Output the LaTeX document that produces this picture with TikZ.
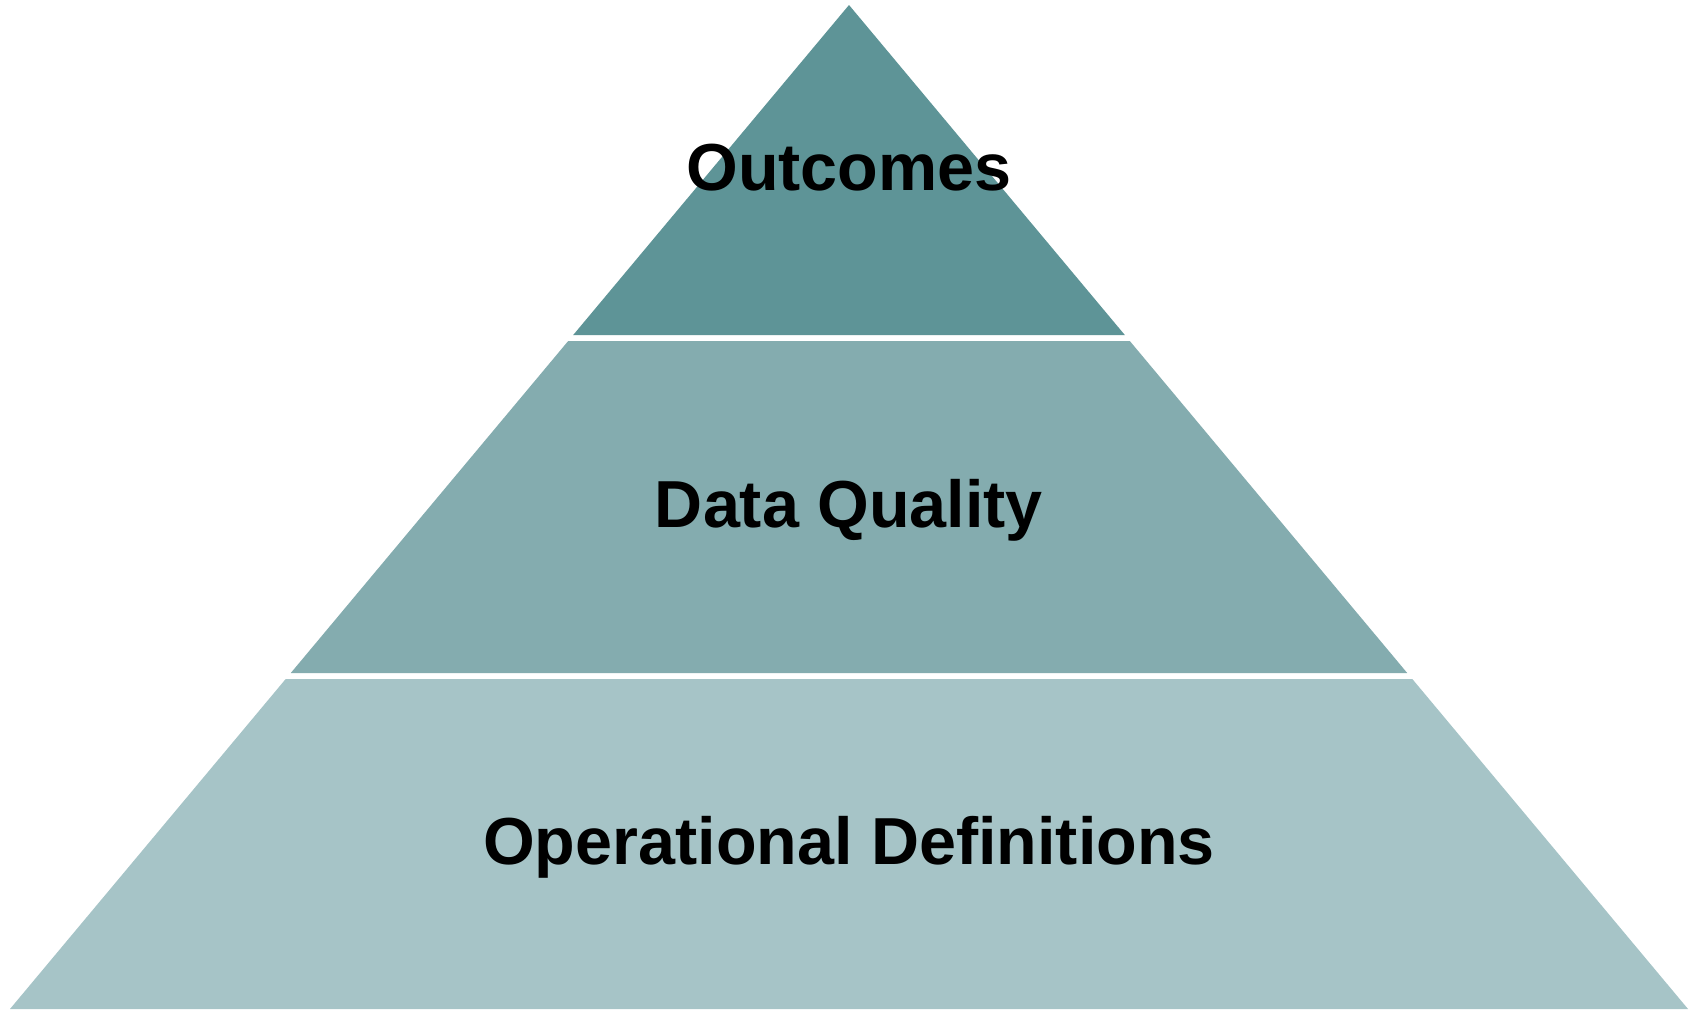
\documentclass[tikz,border=0pt]{standalone}
\usepackage{fontspec}
\setmainfont{Liberation Sans}
\definecolor{tierA}{RGB}{94,148,151}
\definecolor{tierB}{RGB}{132,172,175}
\definecolor{tierC}{RGB}{166,196,199}
\tikzset{
  tierlabel/.style={anchor=base, inner sep=0pt, text=black, font=\fontsize{66.5}{80}\selectfont\bfseries}
}
\begin{document}
\begin{tikzpicture}[x=1pt,y=-1pt]
\useasboundingbox (0,0) rectangle (1694,1009);
\fill[white] (0,0) rectangle (1694,1009);
\fill[tierA] (849,5) -- (573.2,335) -- (1124.8,335) -- cycle;
\fill[tierB] (568.2,341) -- (1129.8,341) -- (1407.2,673) -- (290.8,673) -- cycle;
\fill[tierC] (285.7,679) -- (1412.3,679) -- (1688,1009) -- (10,1009) -- cycle;
\node[tierlabel] (outcomes) at (849,190) {Outcomes};
\node[tierlabel] (quality) at (849,527) {Data Quality};
\node[tierlabel] (opdef) at (849,864) {Operational Definitions};
\end{tikzpicture}
\end{document}
